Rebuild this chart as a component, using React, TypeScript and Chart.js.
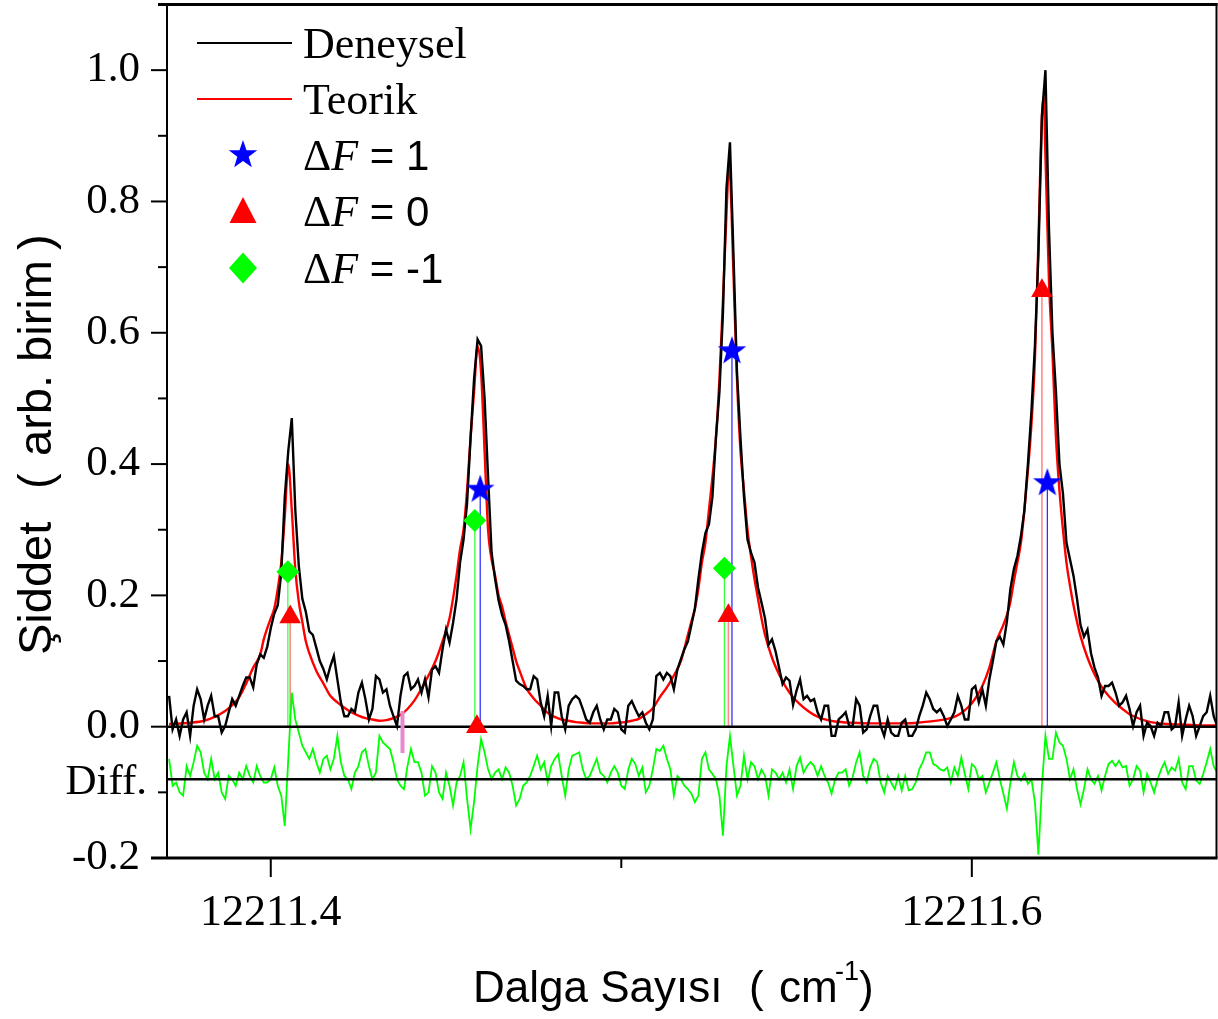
import React, { useEffect, useRef } from 'react';
import { Chart, registerables } from 'chart.js';

Chart.register(...registerables);

// ---------------- data ----------------
const waveStart = 12211.371;
const waveStep = 0.001;
const waveBase = 12211;

// experimental spectrum (Deneysel), sampled every 0.001 cm-1 from waveStart
const deneysel = [
  0.047, -0.004, 0.011, -0.014, 0.011, 0.022, -0.014, 0.032, 0.057, 0.042, 0.011, 0.032, 0.047, 0.016, 0.016, -0.009, 0.001, 0.022, 0.042, 0.032,
  0.047, 0.062, 0.075, 0.075, 0.06, 0.095, 0.11, 0.105, 0.122, 0.15, 0.172, 0.185, 0.235, 0.35, 0.42, 0.47, 0.33, 0.245, 0.195, 0.175,
  0.145, 0.14, 0.12, 0.10, 0.088, 0.072, 0.092, 0.108, 0.072, 0.037, 0.016, 0.016, 0.027, 0.022, 0.052, 0.067, 0.042, 0.011, 0.027, 0.077,
  0.072, 0.052, 0.057, 0.032, 0.016, 0.001, 0.047, 0.077, 0.082, 0.057, 0.062, 0.072, 0.052, 0.072, 0.045, 0.087, 0.092, 0.082, 0.118, 0.148,
  0.128, 0.158, 0.194, 0.25, 0.285, 0.34, 0.44, 0.53, 0.59, 0.58, 0.50, 0.38, 0.265, 0.225, 0.192, 0.17, 0.155, 0.13, 0.10, 0.07,
  0.065, 0.062, 0.057, 0.057, 0.077, 0.072, 0.037, 0.016, 0.047, 0.001, 0.052, 0.052, 0.016, -0.004, 0.032, 0.042, 0.047, 0.042, 0.027, 0.011,
  0.006, 0.022, 0.032, 0.011, -0.004, 0.011, 0.011, 0.027, 0.022, -0.004, -0.009, 0.032, 0.039, 0.027, 0.016, 0.022, 0.006, -0.004, 0.011, 0.077,
  0.082, 0.072, 0.082, 0.077, 0.057, 0.087, 0.103, 0.118, 0.13, 0.155, 0.18, 0.225, 0.265, 0.295, 0.308, 0.35, 0.44, 0.51, 0.63, 0.82,
  0.89, 0.72, 0.54, 0.44, 0.35, 0.285, 0.265, 0.25, 0.212, 0.189, 0.165, 0.125, 0.133, 0.115, 0.09, 0.065, 0.075, 0.07, 0.033, 0.055,
  0.072, 0.042, 0.047, 0.039, 0.042, 0.022, 0.011, 0.032, 0.032, -0.014, -0.014, 0.011, 0.016, 0.022, 0.001, 0.001, 0.042, 0.032, -0.009, -0.004,
  0.016, 0.032, 0.032, 0.001, -0.014, 0.011, -0.009, -0.014, -0.014, 0.006, 0.011, -0.014, -0.014, -0.004, 0.016, 0.032, 0.052, 0.042, 0.027, 0.022,
  0.027, 0.016, 0.001, 0.011, 0.022, 0.047, 0.032, 0.011, 0.011, 0.057, 0.062, 0.037, 0.057, 0.032, 0.072, 0.10, 0.13, 0.137, 0.125, 0.16,
  0.21, 0.24, 0.26, 0.29, 0.33, 0.40, 0.48, 0.58, 0.72, 0.93, 1.0, 0.76, 0.60, 0.51, 0.40, 0.355, 0.28, 0.255, 0.23, 0.195,
  0.155, 0.137, 0.148, 0.112, 0.09, 0.075, 0.047, 0.062, 0.062, 0.067, 0.052, 0.032, 0.037, 0.047, 0.027, 0.001, 0.022, 0.032, -0.014, 0.006,
  0.001, -0.014, 0.006, 0.001, 0.022, 0.022, -0.004, 0.001, 0.037, -0.014, 0.011, 0.032, 0.016, -0.014, 0.001, 0.016, 0.022, 0.047, 0.016, 0.001,
];

// difference trace (offset to the Diff. level), same sampling
const farkIzi = [
  -0.049, -0.09, -0.085, -0.1, -0.105, -0.06, -0.075, -0.054, -0.029, -0.039, -0.07, -0.08, -0.049, -0.08, -0.07, -0.1, -0.11, -0.075, -0.08, -0.09,
  -0.07, -0.08, -0.06, -0.075, -0.085, -0.06, -0.075, -0.085, -0.085, -0.08, -0.062, -0.09, -0.105, -0.151, -0.049, 0.052, 0.011, -0.009, -0.029, -0.039,
  -0.049, -0.034, -0.054, -0.07, -0.049, -0.044, -0.065, -0.049, -0.014, -0.054, -0.075, -0.08, -0.095, -0.07, -0.06, -0.039, -0.034, -0.06, -0.08, -0.07,
  -0.014, -0.024, -0.029, -0.034, -0.054, -0.08, -0.09, -0.095, -0.06, -0.034, -0.054, -0.054, -0.07, -0.105, -0.1, -0.06, -0.07, -0.1, -0.11, -0.07,
  -0.09, -0.12, -0.085, -0.075, -0.054, -0.11, -0.156, -0.115, -0.06, -0.019, -0.039, -0.065, -0.08, -0.07, -0.065, -0.08, -0.062, -0.07, -0.09, -0.12,
  -0.11, -0.09, -0.085, -0.075, -0.06, -0.044, -0.065, -0.054, -0.085, -0.06, -0.049, -0.042, -0.075, -0.105, -0.065, -0.044, -0.042, -0.039, -0.065, -0.08,
  -0.075, -0.062, -0.049, -0.07, -0.075, -0.085, -0.07, -0.06, -0.07, -0.09, -0.095, -0.065, -0.049, -0.057, -0.075, -0.062, -0.1, -0.09, -0.065, -0.034,
  -0.037, -0.029, -0.049, -0.065, -0.105, -0.075, -0.08, -0.09, -0.095, -0.102, -0.115, -0.105, -0.049, -0.039, -0.065, -0.072, -0.08, -0.105, -0.166, -0.06,
  -0.014, -0.06, -0.105, -0.09, -0.044, -0.08, -0.054, -0.06, -0.08, -0.065, -0.075, -0.105, -0.065, -0.07, -0.08, -0.07, -0.085, -0.065, -0.095, -0.06,
  -0.047, -0.07, -0.06, -0.054, -0.06, -0.075, -0.06, -0.075, -0.085, -0.102, -0.08, -0.07, -0.07, -0.065, -0.09, -0.077, -0.054, -0.039, -0.075, -0.085,
  -0.062, -0.049, -0.054, -0.085, -0.1, -0.075, -0.085, -0.095, -0.075, -0.097, -0.075, -0.097, -0.095, -0.085, -0.065, -0.054, -0.039, -0.039, -0.057, -0.06,
  -0.065, -0.067, -0.062, -0.085, -0.062, -0.075, -0.047, -0.072, -0.095, -0.057, -0.062, -0.08, -0.075, -0.1, -0.085, -0.07, -0.054, -0.08, -0.102, -0.125,
  -0.085, -0.054, -0.075, -0.082, -0.072, -0.087, -0.08, -0.115, -0.195, -0.09, -0.014, -0.049, -0.049, -0.009, -0.024, -0.029, -0.049, -0.08, -0.065, -0.095,
  -0.118, -0.095, -0.065, -0.08, -0.087, -0.075, -0.097, -0.075, -0.057, -0.052, -0.06, -0.052, -0.062, -0.06, -0.09, -0.08, -0.06, -0.067, -0.1, -0.072,
  -0.085, -0.1, -0.08, -0.065, -0.054, -0.072, -0.062, -0.067, -0.049, -0.085, -0.095, -0.06, -0.06, -0.082, -0.087, -0.072, -0.054, -0.034, -0.06, -0.07,
];

// theoretical spectrum (Teorik): wavenumber offsets from waveBase and intensities
const teorikX = [
  0.371, 0.377, 0.381, 0.384, 0.387, 0.389, 0.391, 0.393, 0.395, 0.397, 0.398, 0.399, 0.400, 0.401, 0.402, 0.403, 0.404, 0.405, 0.406, 0.407,
  0.408, 0.409, 0.410, 0.411, 0.413, 0.415, 0.417, 0.419, 0.421, 0.423, 0.425, 0.427, 0.429, 0.431, 0.433, 0.435, 0.437, 0.439, 0.441, 0.443,
  0.445, 0.447, 0.449, 0.451, 0.453, 0.454, 0.455, 0.456, 0.457, 0.458, 0.459, 0.460, 0.461, 0.462, 0.463, 0.464, 0.465, 0.466, 0.467, 0.468,
  0.469, 0.470, 0.471, 0.473, 0.475, 0.477, 0.479, 0.481, 0.483, 0.485, 0.487, 0.489, 0.491, 0.497, 0.499, 0.501, 0.503, 0.505, 0.507, 0.509,
  0.511, 0.513, 0.515, 0.517, 0.519, 0.520, 0.521, 0.522, 0.523, 0.524, 0.525, 0.526, 0.527, 0.528, 0.529, 0.530, 0.5308, 0.531, 0.532, 0.533,
  0.534, 0.535, 0.536, 0.537, 0.538, 0.539, 0.540, 0.541, 0.543, 0.545, 0.547, 0.549, 0.551, 0.553, 0.555, 0.557, 0.559, 0.561, 0.566, 0.571,
  0.581, 0.586, 0.591, 0.593, 0.595, 0.597, 0.599, 0.601, 0.603, 0.605, 0.607, 0.609, 0.610, 0.611, 0.612, 0.613, 0.614, 0.615, 0.616, 0.617,
  0.618, 0.619, 0.620, 0.6205, 0.621, 0.622, 0.623, 0.624, 0.625, 0.626, 0.627, 0.628, 0.629, 0.630, 0.631, 0.633, 0.635, 0.637, 0.639, 0.641,
  0.643, 0.645, 0.647, 0.649, 0.651, 0.656, 0.661, 0.666, 0.670,
];
const teorikY = [
  0.004, 0.006, 0.009, 0.015, 0.024, 0.033, 0.045, 0.066, 0.09, 0.11, 0.133, 0.15, 0.165, 0.18, 0.21, 0.25, 0.32, 0.40, 0.33, 0.24,
  0.19, 0.16, 0.13, 0.112, 0.085, 0.066, 0.047, 0.037, 0.029, 0.022, 0.017, 0.013, 0.011, 0.009, 0.010, 0.013, 0.018, 0.027, 0.04, 0.058,
  0.078, 0.10, 0.13, 0.165, 0.23, 0.27, 0.30, 0.36, 0.44, 0.51, 0.58, 0.54, 0.42, 0.30, 0.255, 0.23, 0.20, 0.183, 0.16, 0.14,
  0.12, 0.10, 0.085, 0.058, 0.043, 0.032, 0.021, 0.015, 0.011, 0.009, 0.007, 0.006, 0.005, 0.005, 0.006, 0.007, 0.009, 0.012, 0.019, 0.028,
  0.045, 0.06, 0.078, 0.10, 0.14, 0.16, 0.18, 0.21, 0.25, 0.28, 0.33, 0.38, 0.44, 0.53, 0.65, 0.78, 0.86, 0.85, 0.69, 0.53,
  0.42, 0.36, 0.30, 0.26, 0.225, 0.195, 0.165, 0.14, 0.105, 0.08, 0.06, 0.045, 0.034, 0.025, 0.018, 0.013, 0.010, 0.008, 0.006, 0.005,
  0.005, 0.007, 0.010, 0.012, 0.015, 0.021, 0.03, 0.043, 0.062, 0.09, 0.13, 0.155, 0.17, 0.19, 0.222, 0.25, 0.28, 0.33, 0.39, 0.46,
  0.56, 0.74, 0.93, 0.96, 0.87, 0.68, 0.57, 0.44, 0.36, 0.30, 0.25, 0.215, 0.185, 0.16, 0.138, 0.105, 0.08, 0.061, 0.047, 0.036,
  0.027, 0.019, 0.014, 0.010, 0.007, 0.004, 0.003, 0.002, 0.002,
];

// stick transitions
const dF1X = [12211.45975, 12211.53157, 12211.62154];
const dF1Y = [0.361, 0.572, 0.371];
const dF0X = [12211.40554, 12211.45881, 12211.53055, 12211.62];
const dF0Y = [0.167, 0.0, 0.169, 0.664];
const dFm1X = [12211.40488, 12211.45821, 12211.5294];
const dFm1Y = [0.236, 0.314, 0.2415];
const pinkX = [12211.43758, 12211.43758];
const pinkY = [0.024, -0.04];

const zeroLevel = 0;
const diffLevel = -0.08;

// axes
const xMin = 12211.3704;
const xMax = 12211.6698;
const yMin = -0.2;
const yMax = 1.1;
const xTicks = [12211.4, 12211.5, 12211.6];
const xTickLabels = ['12211.4', '', '12211.6'];
const yTicks = [-0.2, -0.1, 0, 0.1, 0.2, 0.3, 0.4, 0.5, 0.6, 0.7, 0.8, 0.9, 1.0];
const yTickLabels = ['-0.2', '', '0.0', '', '0.2', '', '0.4', '', '0.6', '', '0.8', '', '1.0'];
const diffLabel = 'Diff.';
const yTitleParts = ['Şiddet', '(', 'arb. birim', ')'];
const xTitleParts = ['Dalga Sayısı', '(', 'cm', '-1', ')'];
const legendNames = ['Deneysel', 'Teorik'];
const legendDelta = ['1', '0', '-1'];

const W = 1218;
const H = 1019;
const SERIF = '"Liberation Serif", "Times New Roman", serif';
const SANS = '"Liberation Sans", Arial, sans-serif';

function makeStar(R: number, color: string) {
  const c = document.createElement('canvas');
  const size = Math.ceil(2 * R + 2);
  c.width = size;
  c.height = size;
  const g = c.getContext('2d')!;
  const cx = size / 2;
  const cy = size / 2;
  const r = R * 0.4;
  g.beginPath();
  for (let k = 0; k < 10; k++) {
    const ang = -Math.PI / 2 + (k * Math.PI) / 5;
    const rr = k % 2 === 0 ? R : r;
    g.lineTo(cx + rr * Math.cos(ang), cy + rr * Math.sin(ang));
  }
  g.closePath();
  g.fillStyle = color;
  g.fill();
  return c;
}

function pts(xs: number[], ys: number[]) {
  return xs.map((x, i) => ({ x, y: ys[i] }));
}

function sticks(xs: number[], ys: number[]) {
  const out: { x: number; y: number | null }[] = [];
  xs.forEach((x, i) => {
    out.push({ x, y: zeroLevel }, { x, y: ys[i] }, { x, y: null });
  });
  return out;
}

export default function App() {
  const ref = useRef<HTMLCanvasElement>(null);

  useEffect(() => {
    const canvas = ref.current!;
    const star = makeStar(15, '#0000ff');

    const expPts = deneysel.map((y, i) => ({ x: waveStart + i * waveStep, y }));
    const diffPts = farkIzi.map((y, i) => ({ x: waveStart + i * waveStep, y }));
    const theoPts = teorikX.map((x, i) => ({ x: waveBase + x, y: teorikY[i] }));

    const framePlugin = {
      id: 'frameAndText',
      afterDraw(chart: any) {
        const { ctx, chartArea: a, scales } = chart;
        const xs = scales.x;
        const ys = scales.y;
        ctx.save();
        ctx.strokeStyle = '#000';
        ctx.fillStyle = '#000';
        ctx.lineCap = 'butt';

        // frame
        ctx.lineWidth = 3;
        ctx.beginPath();
        ctx.moveTo(a.left - 9, a.top);
        ctx.lineTo(a.right + 1, a.top);
        ctx.stroke();
        ctx.beginPath();
        ctx.moveTo(a.left - 16, a.bottom);
        ctx.lineTo(a.right + 1, a.bottom);
        ctx.stroke();
        ctx.lineWidth = 2;
        ctx.beginPath();
        ctx.moveTo(a.left, a.top - 1.5);
        ctx.lineTo(a.left, a.bottom);
        ctx.moveTo(a.right, a.top - 1.5);
        ctx.lineTo(a.right, a.bottom);
        ctx.stroke();

        // y ticks (outward)
        ctx.lineWidth = 2;
        ys.ticks.forEach((t: any, i: number) => {
          const py = ys.getPixelForValue(t.value);
          const len = yTickLabels[i] ? 16 : 9;
          ctx.beginPath();
          ctx.moveTo(a.left - len, py);
          ctx.lineTo(a.left, py);
          ctx.stroke();
        });
        // x ticks (outward)
        xs.ticks.forEach((t: any, i: number) => {
          const px = xs.getPixelForValue(t.value);
          const len = xTickLabels[i] ? 19 : 10;
          ctx.beginPath();
          ctx.moveTo(px, a.bottom);
          ctx.lineTo(px, a.bottom + len);
          ctx.stroke();
        });

        // Diff. label
        ctx.font = `43px ${SERIF}`;
        ctx.textAlign = 'right';
        ctx.textBaseline = 'middle';
        ctx.fillText(diffLabel, 147, ys.getPixelForValue(diffLevel) + 3);

        // y title (rotated)
        ctx.save();
        ctx.translate(51, 655);
        ctx.rotate(-Math.PI / 2);
        ctx.textAlign = 'left';
        ctx.textBaseline = 'alphabetic';
        ctx.font = `47px ${SANS}`;
        ctx.fillText(yTitleParts[0], 0, 0);
        ctx.fillText(yTitleParts[1], 166, 0);
        ctx.fillText(yTitleParts[2], 199, 0);
        ctx.fillText(yTitleParts[3], 405, 0);
        ctx.restore();

        // x title
        ctx.textAlign = 'left';
        ctx.textBaseline = 'alphabetic';
        ctx.font = `44px ${SANS}`;
        ctx.fillText(xTitleParts[0], 473, 1002);
        ctx.fillText(xTitleParts[1], 749, 1002);
        ctx.fillText(xTitleParts[2], 779, 1002);
        ctx.font = `27px ${SANS}`;
        ctx.fillText(xTitleParts[3], 835, 980);
        ctx.font = `44px ${SANS}`;
        ctx.fillText(xTitleParts[4], 859, 1002);

        // legend
        const lx0 = 197;
        const lx1 = 292;
        const mx = 243;
        const tx = 303;
        const rows = [43, 99, 155, 211, 268];
        ctx.lineWidth = 2;
        ctx.strokeStyle = '#000000';
        ctx.beginPath();
        ctx.moveTo(lx0, rows[0]);
        ctx.lineTo(lx1, rows[0]);
        ctx.stroke();
        ctx.strokeStyle = '#ff0000';
        ctx.beginPath();
        ctx.moveTo(lx0, rows[1]);
        ctx.lineTo(lx1, rows[1]);
        ctx.stroke();
        ctx.fillStyle = '#000';
        ctx.font = `44px ${SERIF}`;
        ctx.fillText(legendNames[0], tx, rows[0] + 15);
        ctx.fillText(legendNames[1], tx, rows[1] + 15);

        // star
        ctx.drawImage(star, mx - star.width / 2, rows[2] - star.height / 2);
        // triangle
        ctx.fillStyle = '#ff0000';
        ctx.beginPath();
        ctx.moveTo(mx, rows[3] - 14);
        ctx.lineTo(mx + 13.5, rows[3] + 12);
        ctx.lineTo(mx - 13.5, rows[3] + 12);
        ctx.closePath();
        ctx.fill();
        // diamond
        ctx.fillStyle = '#00ff00';
        ctx.beginPath();
        ctx.moveTo(mx, rows[4] - 15.5);
        ctx.lineTo(mx + 14, rows[4]);
        ctx.lineTo(mx, rows[4] + 15.5);
        ctx.lineTo(mx - 14, rows[4]);
        ctx.closePath();
        ctx.fill();

        ctx.fillStyle = '#000';
        legendDelta.forEach((v, k) => {
          const by = rows[2 + k] + 15;
          ctx.font = `44px ${SERIF}`;
          ctx.fillText('Δ', tx, by);
          const wD = ctx.measureText('Δ').width;
          ctx.font = `italic 44px ${SERIF}`;
          ctx.fillText('F', tx + wD, by);
          const wF = ctx.measureText('F').width;
          ctx.font = `42px ${SANS}`;
          ctx.fillText(' = ' + v, tx + wD + wF, by);
        });

        ctx.restore();
      },
    };

    const chart = new Chart(canvas, {
      type: 'scatter',
      data: {
        datasets: [
          {
            label: 'ΔF = 1',
            data: pts(dF1X, dF1Y),
            pointStyle: star as any,
            pointRadius: 15,
            order: 0,
          } as any,
          {
            label: 'ΔF = 0',
            data: pts(dF0X, dF0Y),
            pointStyle: 'triangle',
            pointRadius: 12.5,
            backgroundColor: '#ff0000',
            borderColor: '#ff0000',
            borderWidth: 0,
            order: 0,
          },
          {
            label: 'ΔF = -1',
            data: pts(dFm1X, dFm1Y),
            pointStyle: 'rectRot',
            pointRadius: 11.5,
            backgroundColor: '#00ff00',
            borderColor: '#00ff00',
            borderWidth: 0,
            order: 0,
          },
          {
            label: 'pink',
            data: pts(pinkX, pinkY),
            showLine: true,
            borderColor: '#e58ad0',
            borderWidth: 4,
            pointRadius: 0,
            order: 0.5,
          },
          {
            label: 'Deneysel',
            data: expPts,
            showLine: true,
            borderColor: '#000000',
            borderWidth: 2.4,
            pointRadius: 0,
            order: 1,
          },
          {
            label: 'zero',
            data: [{ x: xMin, y: zeroLevel }, { x: xMax, y: zeroLevel }],
            showLine: true,
            borderColor: '#000000',
            borderWidth: 2.5,
            pointRadius: 0,
            order: 1.5,
          },
          {
            label: 'diffbase',
            data: [{ x: xMin, y: diffLevel }, { x: xMax, y: diffLevel }],
            showLine: true,
            borderColor: '#000000',
            borderWidth: 2.5,
            pointRadius: 0,
            order: 1.5,
          },
          {
            label: 'Teorik',
            data: theoPts,
            showLine: true,
            borderColor: '#ff0000',
            borderWidth: 2.4,
            pointRadius: 0,
            cubicInterpolationMode: 'monotone',
            order: 2,
          },
          {
            label: 'Diff',
            data: diffPts,
            showLine: true,
            borderColor: '#00ff00',
            borderWidth: 1.8,
            pointRadius: 0,
            order: 3,
          },
          {
            label: 'stick1',
            data: sticks(dF1X, dF1Y) as any,
            showLine: true,
            spanGaps: false,
            borderColor: '#2020ff',
            borderWidth: 1.2,
            pointRadius: 0,
            order: 5,
          },
          {
            label: 'stick0',
            data: sticks(dF0X, dF0Y) as any,
            showLine: true,
            spanGaps: false,
            borderColor: 'rgba(255,60,60,0.6)',
            borderWidth: 1.6,
            pointRadius: 0,
            order: 5,
          },
          {
            label: 'stickm1',
            data: sticks(dFm1X, dFm1Y) as any,
            showLine: true,
            spanGaps: false,
            borderColor: '#30ff30',
            borderWidth: 1.2,
            pointRadius: 0,
            order: 5,
          },
        ],
      },
      options: {
        responsive: false,
        animation: false,
        events: [],
        devicePixelRatio: 1,
        layout: { autoPadding: false, padding: { left: 0, right: 1.5, top: 4.5, bottom: 0 } },
        plugins: { legend: { display: false }, tooltip: { enabled: false } },
        scales: {
          x: {
            type: 'linear',
            min: xMin,
            max: xMax,
            bounds: 'data',
            grid: { display: false, drawTicks: false },
            border: { display: false },
            ticks: {
              autoSkip: false,
              maxRotation: 0,
              minRotation: 0,
              padding: 29,
              color: '#000',
              font: { family: SERIF, size: 44 },
              callback: (_v: any, i: number) => xTickLabels[i],
            },
            afterBuildTicks: (s: any) => {
              s.ticks = xTicks.map((v) => ({ value: v }));
            },
            afterFit: (s: any) => {
              s.height = H - 858;
              s.paddingLeft = 0;
              s.paddingRight = 0;
            },
          },
          y: {
            type: 'linear',
            min: yMin,
            max: yMax,
            bounds: 'data',
            grid: { display: false, drawTicks: false },
            border: { display: false },
            ticks: {
              autoSkip: false,
              padding: 27,
              color: '#000',
              font: { family: SERIF, size: 43 },
              callback: (_v: any, i: number) => yTickLabels[i],
            },
            afterBuildTicks: (s: any) => {
              s.ticks = yTicks.map((v) => ({ value: v }));
            },
            afterFit: (s: any) => {
              s.width = 167;
              s.paddingTop = 0;
              s.paddingBottom = 0;
            },
          },
        },
      } as any,
      plugins: [framePlugin],
    });

    return () => chart.destroy();
  }, []);

  return (
    <div style={{ position: 'absolute', left: 0, top: 0, width: W, height: H, background: '#fff' }}>
      <canvas ref={ref} width={W} height={H} style={{ display: 'block', width: W, height: H }} />
    </div>
  );
}
